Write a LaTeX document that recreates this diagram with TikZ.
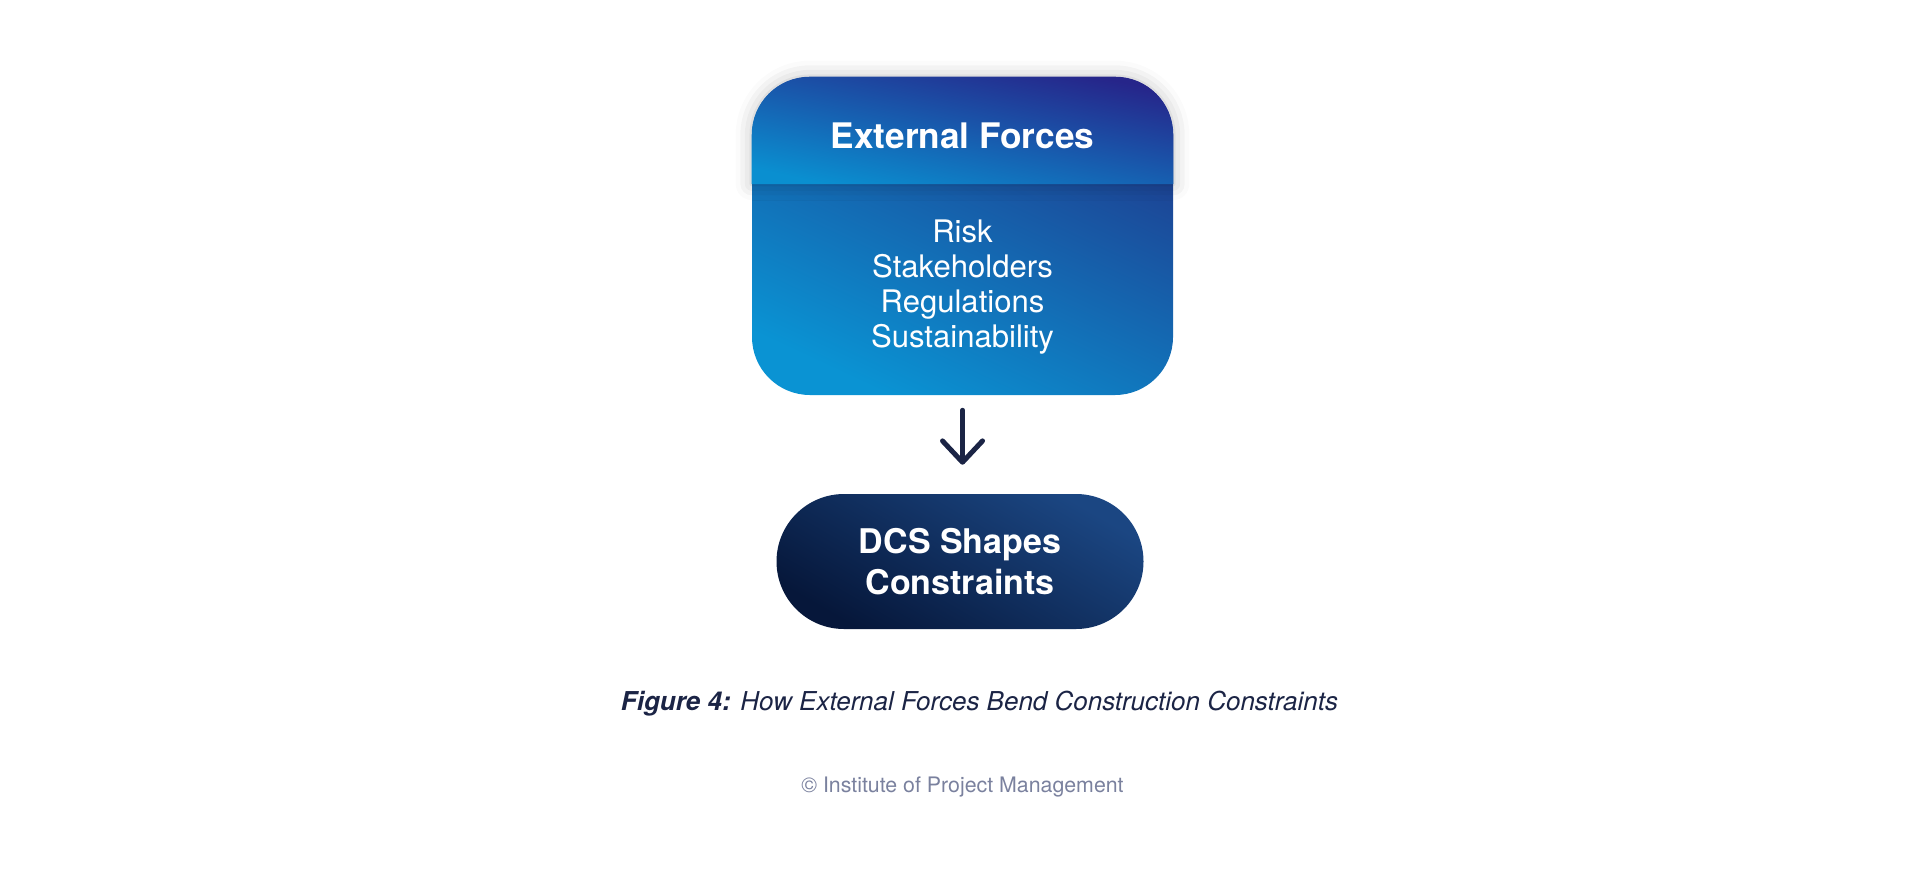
\documentclass[tikz,border=0pt]{standalone}
\usepackage{fontspec}
\setmainfont{TeX Gyre Heros}
\usepackage{tikz}
\usetikzlibrary{positioning,shapes.misc,arrows.meta,shadows.blur}
\definecolor{headtop}{HTML}{26258A}
\definecolor{headbot}{HTML}{0A8FD0}
\definecolor{bodytop}{HTML}{1F3A8D}
\definecolor{bodybot}{HTML}{0A93D3}
\definecolor{dcstop}{HTML}{1B4682}
\definecolor{dcsbot}{HTML}{06173A}
\definecolor{navy}{HTML}{1B2445}
\definecolor{greyblue}{HTML}{7A819E}
\newcommand{\flowarrow}{-{Straight Barb[length=16pt,width=30pt,round]}}

\begin{document}
\begin{tikzpicture}[x=0.75pt,y=-0.75pt,
    panel/.style={rectangle,rounded corners=43.5pt,minimum width=315.75pt,minimum height=238.5pt,inner sep=0pt},
    dcsbox/.style={rounded rectangle,minimum width=275.25pt,minimum height=101.25pt,inner sep=0pt,
        text=white,align=center,font=\bfseries\fontsize{25.5}{30.75}\selectfont},
    lighttext/.style={text=white,inner sep=0pt}]
    \useasboundingbox (0,0) rectangle (1920,875);
    \node[panel,top color=bodytop,bottom color=bodybot,shading angle=-25] (panel) at (962.5,236) {};
    \coordinate (divide) at (962.5,184);
    % header band on top of the panel
    \path[top color=headtop,bottom color=headbot,shading angle=-12,
        blur shadow={shadow xshift=0pt,shadow yshift=0pt,shadow blur radius=12pt,shadow opacity=25}]
        (panel.west |- divide) [rounded corners=43.5pt] -- (panel.north west) -- (panel.north east)
        [sharp corners] -- (panel.east |- divide) -- cycle;
    \node[lighttext,font=\bfseries\fontsize{26.4}{31}\selectfont,anchor=base] (forces) at (962.5,148) {External Forces};
    \node[lighttext,font=\fontsize{23.3}{26.25}\selectfont,align=center,anchor=base] (factors) at (962.5,347)
        {Risk\\Stakeholders\\Regulations\\Sustainability};
    \node[dcsbox,top color=dcstop,bottom color=dcsbot,shading angle=-30] (dcs) at (960,561.5) {DCS Shapes\\Constraints};
    \draw[navy,line width=3.75pt,line cap=round,line join=round,\flowarrow,shorten <=11.25pt,shorten >=21.75pt]
        (panel.south) -- (panel.south |- dcs.north);
    \node[font=\itshape\fontsize{19.5}{23}\selectfont,text=navy,anchor=base] (caption) at (979.5,710)
        {\textbf{Figure 4:} How External Forces Bend Construction Constraints};
    \node[font=\fontsize{16}{19}\selectfont,text=greyblue,anchor=base] (credit) at (962.5,792)
        {© Institute of Project Management};
\end{tikzpicture}
\end{document}
